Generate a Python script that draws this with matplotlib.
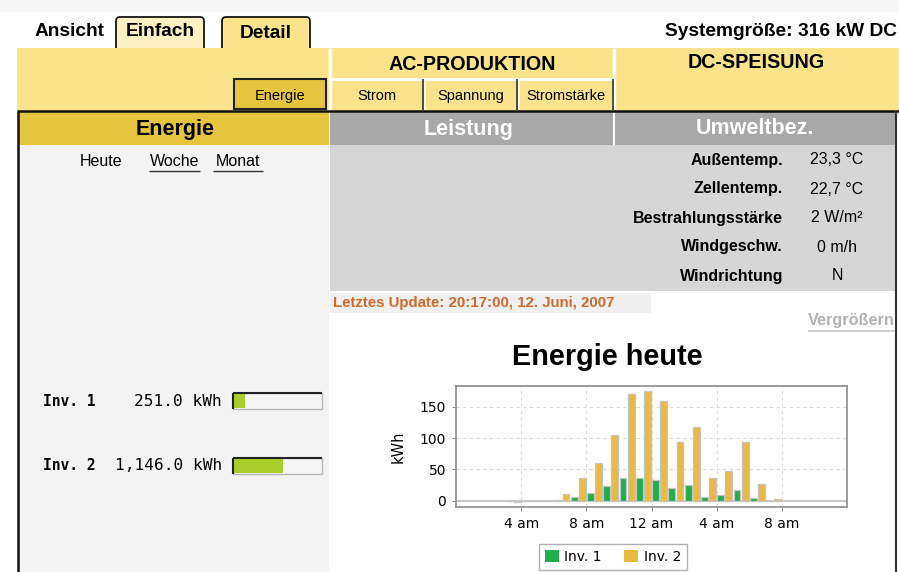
import matplotlib
matplotlib.use("Agg")
import matplotlib.pyplot as plt
from matplotlib.patches import Rectangle, FancyBboxPatch, Patch

# ---------------- data ----------------
hours = [3, 4, 5, 6, 7, 8, 9, 10, 11, 12, 13, 14, 15, 16, 17, 18, 19]
inv1 = [0, 0, 0, 1, 6, 12, 23, 36, 36, 33, 20, 25, 6, 9, 17, 4, 0]
inv2 = [-1.5, 0, 0, 10, 37, 60, 105, 170, 175, 159, 94, 117, 37, 47, 94, 26, 2]
series_names = ["Inv. 1", "Inv. 2"]
tick_hours = [4, 8, 12, 16, 20]
tick_labels = ["4 am", "8 am", "12 am", "4 am", "8 am"]
y_ticks = [0, 50, 100, 150]
totals = [251.0, 1146.0]
total_labels = ["251.0 kWh", "1,146.0 kWh"]
total_max = 2050.0
weather_labels = ["Außentemp.", "Zellentemp.", "Bestrahlungsstärke", "Windgeschw.", "Windrichtung"]
weather_values = ["23,3 °C", "22,7 °C", "2 W/m²", "0 m/h", "N"]

SANS = "Liberation Sans"
MONO = "DejaVu Sans Mono"
GREEN = "#1eae4c"
GOLD = "#e9b941"
BAND = "#fae38a"
DARKGOLD = "#e5c43e"
GREY_HDR = "#a8a8a8"
GREY_PANEL = "#d6d6d6"

fig = plt.figure(figsize=(8.99, 5.72), dpi=100)
fig.patch.set_facecolor("white")
bg = fig.add_axes([0, 0, 1, 1])
bg.set_xlim(0, 899)
bg.set_ylim(572, 0)
bg.axis("off")


def rect(x0, y0, x1, y1, fc, ec="none", lw=0, z=1):
    bg.add_patch(Rectangle((x0, y0), x1 - x0, y1 - y0, facecolor=fc, edgecolor=ec, linewidth=lw, zorder=z))


def txt(x, y, s, size=10, weight="normal", color="black", ha="center", family=SANS, z=5):
    bg.text(x, y, s, fontsize=size, fontweight=weight, color=color, ha=ha, va="center",
            family=family, zorder=z)


def hline(x0, x1, y, color, lw=1, z=3):
    bg.plot([x0, x1], [y, y], color=color, linewidth=lw, zorder=z, solid_capstyle="butt")


def vline(x, y0, y1, color, lw=1, z=3):
    bg.plot([x, x], [y0, y1], color=color, linewidth=lw, zorder=z, solid_capstyle="butt")


# top strip shading
rect(0, 0, 899, 12, "#f7f7f7", z=0)

# tabs
for (x0, x1, fc, label) in [(116, 204, "#fdf1c4", "Einfach"), (222, 310, BAND, "Detail")]:
    bg.add_patch(FancyBboxPatch((x0, 17), x1 - x0, 40, boxstyle="round,pad=0,rounding_size=4",
                                facecolor=fc, edgecolor="black", linewidth=1.2, zorder=1))
txt(35, 32, "Ansicht", 13.8, "bold", ha="left")
txt(160, 32, "Einfach", 13.8, "bold")
txt(266, 33, "Detail", 13.8, "bold")
txt(897, 32, "Systemgröße: 316 kW DC", 13.8, "bold", ha="right")

# yellow band
rect(17, 48, 899, 111, BAND, z=2)
vline(330, 48, 111, "white", 2.5)
vline(614, 48, 111, "white", 2.5)
hline(331, 613, 78.5, "white", 2)
for xs in [424, 518]:
    vline(xs - 1.2, 79, 110, "#333333", 1.2)
    vline(xs + 0.8, 79, 110, "white", 1.2)
vline(612.5, 79, 110, "#333333", 1.2)
txt(472, 64, "AC-PRODUKTION", 14.2, "bold")
txt(756, 62, "DC-SPEISUNG", 14.2, "bold")
rect(234, 79, 326, 109, DARKGOLD, ec="#222222", lw=1.5, z=3)
txt(280, 96, "Energie", 10.5)
txt(377, 96, "Strom", 10.5)
txt(471, 96, "Spannung", 10.5)
txt(566, 96, "Stromstärke", 10.5)
hline(17, 899, 111, "#111111", 1.8, z=4)

# header row
rect(18, 112, 329, 145, DARKGOLD, z=2)
rect(330, 112, 613, 145, GREY_HDR, z=2)
rect(615, 112, 895, 145, GREY_HDR, z=2)
txt(175, 129, "Energie", 15.5, "bold")
txt(469, 129, "Leistung", 15.5, "bold", color="white")
txt(755, 129, "Umweltbez.", 15.5, "bold", color="white")

# left panel
rect(18, 145, 329, 572, "#f3f3f3", z=1)
vline(17.5, 111, 572, "#111111", 1.8, z=4)
vline(895.5, 111, 572, "#333333", 1.5, z=4)
txt(101, 162, "Heute", 11.5)
txt(175, 162, "Woche", 11.5)
txt(238, 162, "Monat", 11.5)
hline(149, 200, 170.5, "#333333", 1)
hline(213, 263, 170.5, "#333333", 1)

# right panel grey
rect(330, 145, 895, 291, GREY_PANEL, z=1)
for i, (lab, val) in enumerate(zip(weather_labels, weather_values)):
    y = 160 + i * 29
    txt(783, y, lab, 11.5, "bold", ha="right")
    txt(837, y, val, 11.5)

rect(330, 293, 651, 313, "#f0f0f0", z=1)
txt(333, 303, "Letztes Update: 20:17:00, 12. Juni, 2007", 10.8, "bold", color="#cf6a2c", ha="left")
txt(895, 320, "Vergrößern", 11.7, "bold", color="#b3b3b3", ha="right")
hline(808, 895, 331, "#c8c8c8", 1.2)

txt(607, 357, "Energie heute", 20.8, "bold")

# left totals
for i, (name, lab, tot) in enumerate(zip(series_names, total_labels, totals)):
    y = 401 + i * 65
    txt(43, y, name, 10.5, "bold", ha="left", family=MONO)
    txt(222, y, lab, 11.6, ha="right", family=MONO)
    x0, x1 = 233, 322
    rect(x0, y - 8, x1, y + 8, "#f6f6f6", ec="#b8b8b8", lw=1, z=2)
    rect(x0 + 1, y - 7, x0 + 1 + (x1 - x0 - 2) * tot / total_max, y + 7, "#a9cd2b", z=3)
    hline(x0, x1, y - 8, "#222222", 1.5, z=4)
    vline(x0, y - 8, y + 8, "#222222", 1.5, z=4)

# ---------------- chart ----------------
ax = fig.add_axes([456 / 899, 1 - 507 / 572, (847 - 456) / 899, (507 - 386) / 572])
ax.set_facecolor("white")
w = 0.42
ax.bar([h + 0.25 for h in hours], inv1, width=w, color=GREEN, edgecolor="#c4c4c4", linewidth=0.9, zorder=3)
ax.bar([h + 0.75 for h in hours], inv2, width=w, color=GOLD, edgecolor="#c4c4c4", linewidth=0.9, zorder=3)
ax.axhline(0, color="#c8c8c8", linewidth=1.5, zorder=2)
ax.set_xlim(0, 24)
ax.set_ylim(-10, 183)
ax.set_xticks(tick_hours)
ax.set_xticklabels(tick_labels, family="DejaVu Sans", fontsize=10)
ax.set_yticks(y_ticks)
ax.set_yticklabels([str(v) for v in y_ticks], family="DejaVu Sans", fontsize=10)
ax.grid(True, color="#dcdcdc", linestyle=(0, (3, 3)), linewidth=0.8, zorder=0)
for s in ax.spines.values():
    s.set_color("#8c8c8c")
    s.set_linewidth(1.2)
ax.tick_params(length=3, color="#8c8c8c", pad=4)
ax.set_ylabel("kWh", family="DejaVu Sans", fontsize=10.5, labelpad=10)

handles = [Patch(facecolor=GREEN, edgecolor="none"), Patch(facecolor=GOLD, edgecolor="none")]
leg = fig.legend(handles, series_names, loc="center", bbox_to_anchor=(613 / 899, 1 - 557 / 572),
                 ncol=2, frameon=True, fancybox=False, prop={"family": "DejaVu Sans", "size": 10},
                 handlelength=1.0, handleheight=1.0, handletextpad=0.4, columnspacing=1.6,
                 borderpad=0.4)
leg.get_frame().set_edgecolor("#9a9a9a")
leg.get_frame().set_linewidth(1.0)

fig.savefig("out.png", dpi=100, facecolor="white")
